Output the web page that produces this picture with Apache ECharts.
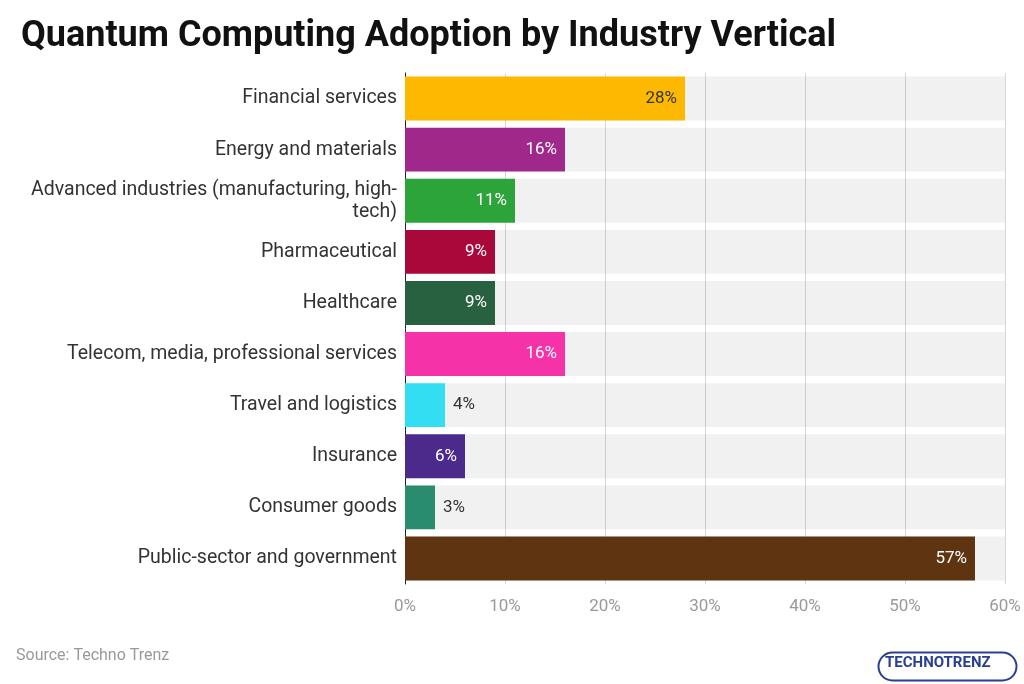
<!DOCTYPE html>
<html>
<head>
<meta charset="utf-8">
<script src="https://cdn.jsdelivr.net/npm/echarts@6/dist/echarts.min.js"></script>
<style>html,body{margin:0;padding:0;background:#fff}#chart{width:1024px;height:684px}</style>
</head>
<body>
<div id="chart"></div>
<script>
var categories = ['Financial services', 'Energy and materials', 'Advanced industries (manufacturing, high-\ntech)',
    'Pharmaceutical', 'Healthcare', 'Telecom, media, professional services', 'Travel and logistics',
    'Insurance', 'Consumer goods', 'Public-sector and government'];
var values = [28, 16, 11, 9, 9, 16, 4, 6, 3, 57];
var colors = ['#FDB900', '#A0288A', '#2DA43A', '#A8083A', '#286140', '#F532A8', '#33DDF2', '#4B2A8C', '#2A8C6E', '#5E3510'];
var xTicks = [0, 10, 20, 30, 40, 50, 60];

var chart = echarts.init(document.getElementById('chart'));

var barData = values.map(function (v, i) {
    var outside = v < 5;
    var darkText = i === 0;
    return {
        value: v,
        itemStyle: { color: colors[i] },
        label: {
            position: outside ? 'right' : 'insideRight',
            color: outside || darkText ? '#333' : '#fff'
        }
    };
});

chart.setOption({
    animation: false,
    title: {
        text: 'Quantum Computing Adoption by Industry Vertical',
        left: 16, top: 14,
        textStyle: { fontFamily: 'Roboto', fontWeight: 'bold', fontSize: 36, color: '#111' }
    },
    grid: { left: 405, right: 19, top: 73, bottom: 100, containLabel: false },
    xAxis: {
        type: 'value', min: 0, max: xTicks[xTicks.length - 1], interval: 10,
        axisLine: { show: false }, axisTick: { show: false },
        splitLine: { lineStyle: { color: '#d6d6d6' } },
        axisLabel: { formatter: '{value}%', color: '#999', fontSize: 17, fontFamily: 'Roboto', margin: 14 }
    },
    yAxis: {
        type: 'category', data: categories, inverse: true,
        axisLine: { show: true, lineStyle: { color: '#222', width: 1 } },
        axisTick: { show: false },
        axisLabel: { color: '#333', fontSize: 19.5, fontFamily: 'Roboto', margin: 8, lineHeight: 22, align: 'right' }
    },
    series: [{
        type: 'bar',
        data: barData,
        barCategoryGap: '14%',
        showBackground: true,
        backgroundStyle: { color: 'rgba(0,0,0,0.055)' },
        label: { show: true, formatter: '{c}%', fontSize: 17, fontFamily: 'Roboto', distance: 8 }
    }],
    graphic: [
        { type: 'text', left: 16, top: 648, style: { text: 'Source: Techno Trenz', fill: '#999', font: '16px Roboto' } },
        { type: 'rect', left: 876, top: 650, shape: { width: 138, height: 28, r: 14 },
          style: { fill: 'none', stroke: '#2a3f8f', lineWidth: 2 } },
        { type: 'text', left: 885, top: 656, style: { text: 'TECHNOTRENZ', fill: '#2a3f8f', font: 'bold 15px Roboto' } }
    ]
});
</script>
</body>
</html>
